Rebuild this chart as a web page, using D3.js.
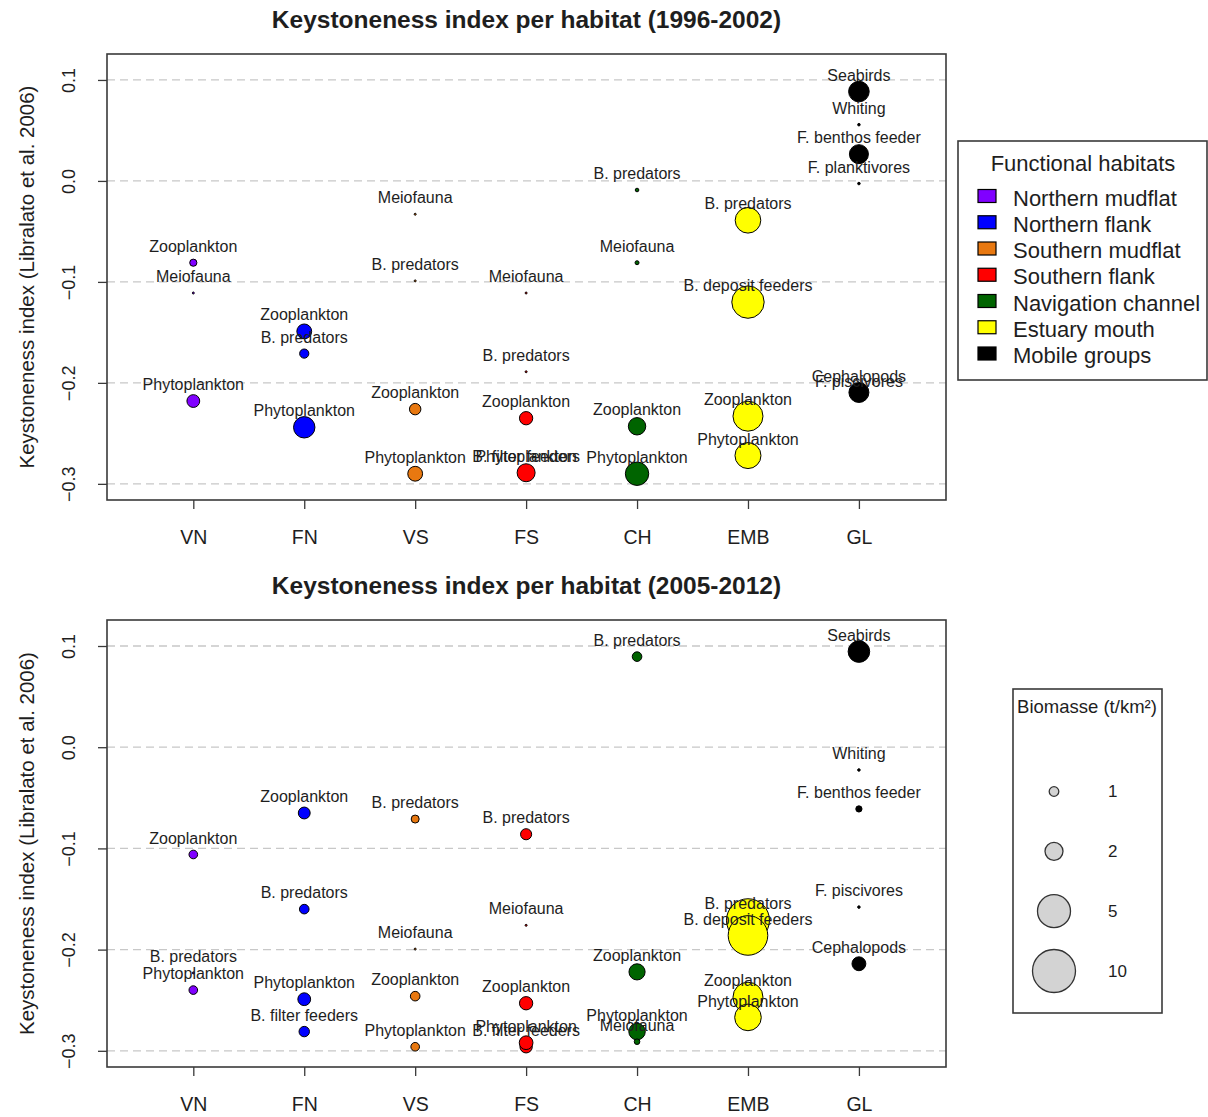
<!DOCTYPE html>
<html>
<head>
<meta charset="utf-8">
<title>Keystoneness index per habitat</title>
<script src="https://cdn.jsdelivr.net/npm/d3@7"></script>
<style>
  html, body { margin: 0; padding: 0; background: #ffffff; }
  svg { display: block; font-family: "Liberation Sans", Arial, Helvetica, sans-serif; }
</style>
</head>
<body>
<svg id="chart" width="1208" height="1117"></svg>
<script>
// ---- Habitats (x categories) and legend entries ----
const habitatCodes  = ["VN", "FN", "VS", "FS", "CH", "EMB", "GL"];
const habitatNames  = ["Northern mudflat", "Northern flank", "Southern mudflat", "Southern flank",
                       "Navigation channel", "Estuary mouth", "Mobile groups"];
const habitatColors = ["#8000FF", "#0000FF", "#E87810", "#FF0000", "#006400", "#FFFF00", "#000000"];

const yTickValues = [-0.3, -0.2, -0.1, 0.0, 0.1];
const biomassKeys = [1, 2, 5, 10];

// ---- Period 1996-2002 ----
const p1Habitat = [
  "VN", "VN", "VN",
  "FN", "FN", "FN",
  "VS", "VS", "VS", "VS",
  "FS", "FS", "FS", "FS", "FS",
  "CH", "CH", "CH", "CH",
  "EMB", "EMB", "EMB", "EMB",
  "GL", "GL", "GL", "GL", "GL", "GL"
];
const p1Group = [
  "Zooplankton", "Meiofauna", "Phytoplankton",
  "Zooplankton", "B. predators", "Phytoplankton",
  "Meiofauna", "B. predators", "Zooplankton", "Phytoplankton",
  "Meiofauna", "B. predators", "Zooplankton", "B. filter feeders", "Phytoplankton",
  "B. predators", "Meiofauna", "Zooplankton", "Phytoplankton",
  "B. predators", "B. deposit feeders", "Zooplankton", "Phytoplankton",
  "Seabirds", "Whiting", "F. benthos feeder", "F. planktivores", "F. piscivores", "Cephalopods"
];
const p1Keystone = [
  -0.081, -0.111, -0.218,
  -0.149, -0.171, -0.244,
  -0.033, -0.099, -0.226, -0.290,
  -0.111, -0.189, -0.235, -0.289, -0.289,
  -0.009, -0.081, -0.243, -0.290,
  -0.039, -0.120, -0.233, -0.272,
  0.0885, 0.0557, 0.0265, -0.0026, -0.215, -0.2095
];
const p1Biomass = [
  0.70, 0.05, 1.38,
  1.62, 0.95, 2.68,
  0.05, 0.05, 1.22, 1.62,
  0.05, 0.05, 1.44, 0.05, 2.00,
  0.25, 0.30, 1.93, 3.08,
  3.52, 4.88, 4.40, 3.60,
  2.52, 0.12, 2.20, 0.12, 0.10, 2.40
];

// ---- Period 2005-2012 ----
const p2Habitat = [
  "VN", "VN", "VN",
  "FN", "FN", "FN", "FN",
  "VS", "VS", "VS", "VS",
  "FS", "FS", "FS", "FS", "FS",
  "CH", "CH", "CH", "CH",
  "EMB", "EMB", "EMB", "EMB",
  "GL", "GL", "GL", "GL", "GL"
];
const p2Group = [
  "Zooplankton", "B. predators", "Phytoplankton",
  "Zooplankton", "B. predators", "Phytoplankton", "B. filter feeders",
  "B. predators", "Meiofauna", "Zooplankton", "Phytoplankton",
  "B. predators", "Meiofauna", "Zooplankton", "B. filter feeders", "Phytoplankton",
  "B. predators", "Zooplankton", "Phytoplankton", "Meiofauna",
  "B. predators", "B. deposit feeders", "Zooplankton", "Phytoplankton",
  "Seabirds", "Whiting", "F. benthos feeder", "F. piscivores", "Cephalopods"
];
const p2Keystone = [
  -0.106, -0.223, -0.240,
  -0.065, -0.160, -0.249, -0.281,
  -0.071, -0.1995, -0.246, -0.296,
  -0.086, -0.176, -0.253, -0.296, -0.292,
  0.0895, -0.222, -0.281, -0.291,
  -0.171, -0.186, -0.247, -0.267,
  0.0945, -0.0225, -0.061, -0.158, -0.214
];
const p2Biomass = [
  0.88, 0.05, 0.88,
  1.27, 1.00, 1.38, 1.10,
  0.80, 0.05, 1.00, 0.88,
  1.18, 0.05, 1.44, 1.33, 1.49,
  1.00, 1.78, 1.82, 0.50,
  10.0, 8.30, 4.40, 3.72,
  2.72, 0.12, 0.58, 0.12, 1.51
];

// ---- Drawing ----
const svg = d3.select("#chart");
const textColor = "#1e1e1e";

const colorOf = d3.scaleOrdinal().domain(habitatCodes).range(habitatColors);
const rScale = d3.scaleLinear().domain([0, 1, 2, 5, 10]).range([0.8, 4.8, 9, 16.5, 21.5]);

const plotLeft = 107, plotRight = 946;

function drawPanel(cfg) {
  const { top, bottom, title, habitat, group, keystone, biomass } = cfg;

  const x = d3.scaleLinear().domain([0.222, 7.785]).range([plotLeft, plotRight]);
  const y = d3.scaleLinear().domain([-0.316, 0.1257]).range([bottom, top]);
  const xPos = code => x(habitatCodes.indexOf(code) + 1);

  const g = svg.append("g");

  // Title
  g.append("text")
    .attr("x", (plotLeft + plotRight) / 2)
    .attr("y", top - 35)
    .attr("dy", "0.35em")
    .attr("text-anchor", "middle")
    .attr("font-size", 24.5)
    .attr("font-weight", "bold")
    .attr("fill", textColor)
    .text(title);

  // Dashed reference lines
  g.append("g").selectAll("line")
    .data(yTickValues)
    .join("line")
    .attr("x1", plotLeft).attr("x2", plotRight)
    .attr("y1", d => y(d)).attr("y2", d => y(d))
    .attr("stroke", "#c8c8c8")
    .attr("stroke-width", 1.3)
    .attr("stroke-dasharray", "8,5");

  // Y axis
  const yAxis = g.append("g")
    .attr("transform", `translate(${plotLeft},0)`)
    .call(d3.axisLeft(y).tickValues(yTickValues).tickSize(9).tickFormat(d3.format(".1f")));
  yAxis.select(".domain").remove();
  yAxis.selectAll(".tick line").attr("stroke", "#3a3a3a").attr("stroke-width", 1.3);
  yAxis.selectAll(".tick text")
    .attr("x", null).attr("dy", null)
    .attr("transform", "translate(-38,0) rotate(-90)")
    .attr("dy", "0.35em")
    .attr("text-anchor", "middle")
    .attr("font-size", 18)
    .attr("font-family", "Liberation Sans, Arial, sans-serif")
    .attr("fill", textColor);

  // Y axis title
  g.append("text")
    .attr("transform", `translate(26.5,${(top + bottom) / 2}) rotate(-90)`)
    .attr("dy", "0.35em")
    .attr("text-anchor", "middle")
    .attr("font-size", 20.5)
    .attr("fill", textColor)
    .text("Keystoneness index (Libralato et al. 2006)");

  // X axis
  const xAxis = g.append("g")
    .attr("transform", `translate(0,${bottom})`)
    .call(d3.axisBottom(x).tickValues(d3.range(1, habitatCodes.length + 1))
      .tickSize(9).tickFormat(i => habitatCodes[i - 1]));
  xAxis.select(".domain").remove();
  xAxis.selectAll(".tick line").attr("stroke", "#3a3a3a").attr("stroke-width", 1.3);
  xAxis.selectAll(".tick text")
    .attr("y", 37)
    .attr("dy", "0.35em")
    .attr("font-size", 19.5)
    .attr("font-family", "Liberation Sans, Arial, sans-serif")
    .attr("fill", textColor);

  // Frame
  g.append("rect")
    .attr("x", plotLeft).attr("y", top)
    .attr("width", plotRight - plotLeft).attr("height", bottom - top)
    .attr("fill", "none")
    .attr("stroke", "#3a3a3a")
    .attr("stroke-width", 1.6);

  const idx = d3.range(group.length);

  // Bubbles
  g.append("g").selectAll("circle")
    .data(idx)
    .join("circle")
    .attr("cx", i => xPos(habitat[i]))
    .attr("cy", i => y(keystone[i]))
    .attr("r", i => rScale(biomass[i]))
    .attr("fill", i => colorOf(habitat[i]))
    .attr("stroke", "#000")
    .attr("stroke-width", 1);

  // Group labels above each bubble
  g.append("g").selectAll("text")
    .data(idx)
    .join("text")
    .attr("x", i => xPos(habitat[i]))
    .attr("y", i => y(keystone[i]) - 16.5)
    .attr("dy", "0.35em")
    .attr("text-anchor", "middle")
    .attr("font-size", 16)
    .attr("fill", textColor)
    .text(i => group[i]);
}

drawPanel({ top: 54, bottom: 500, title: "Keystoneness index per habitat (1996-2002)",
            habitat: p1Habitat, group: p1Group, keystone: p1Keystone, biomass: p1Biomass });
drawPanel({ top: 620, bottom: 1067, title: "Keystoneness index per habitat (2005-2012)",
            habitat: p2Habitat, group: p2Group, keystone: p2Keystone, biomass: p2Biomass });

// ---- Legend: functional habitats ----
const leg1 = svg.append("g");
leg1.append("rect")
  .attr("x", 958).attr("y", 141).attr("width", 249).attr("height", 239)
  .attr("fill", "#fff").attr("stroke", "#3a3a3a").attr("stroke-width", 1.6);
leg1.append("text")
  .attr("x", 1083).attr("y", 163).attr("dy", "0.35em")
  .attr("text-anchor", "middle").attr("font-size", 22).attr("fill", textColor)
  .text("Functional habitats");
const rowY = d3.scaleLinear().domain([0, 6]).range([198, 355.5]);
const rows = leg1.selectAll("g.row").data(d3.range(habitatNames.length)).join("g").attr("class", "row");
rows.append("rect")
  .attr("x", 978).attr("y", i => rowY(i) - 8.5)
  .attr("width", 18).attr("height", 13)
  .attr("fill", i => habitatColors[i])
  .attr("stroke", "#000").attr("stroke-width", 1.2);
rows.append("text")
  .attr("x", 1013).attr("y", i => rowY(i)).attr("dy", "0.35em")
  .attr("font-size", 22).attr("fill", textColor)
  .text(i => habitatNames[i]);

// ---- Legend: biomass ----
const leg2 = svg.append("g");
leg2.append("rect")
  .attr("x", 1013).attr("y", 689).attr("width", 149).attr("height", 324)
  .attr("fill", "#fff").attr("stroke", "#3a3a3a").attr("stroke-width", 1.6);
leg2.append("text")
  .attr("x", 1087).attr("y", 707).attr("dy", "0.35em")
  .attr("text-anchor", "middle").attr("font-size", 18.5).attr("fill", textColor)
  .text("Biomasse (t/km²)");
const keyY = d3.scaleLinear().domain([0, 3]).range([791.5, 971]);
const keys = leg2.selectAll("g.key").data(biomassKeys).join("g").attr("class", "key");
keys.append("circle")
  .attr("cx", 1054).attr("cy", (d, i) => keyY(i))
  .attr("r", d => rScale(d))
  .attr("fill", "#d3d3d3").attr("stroke", "#333").attr("stroke-width", 1.3);
keys.append("text")
  .attr("x", 1108).attr("y", (d, i) => keyY(i)).attr("dy", "0.35em")
  .attr("font-size", 17).attr("fill", textColor)
  .text(d => d);
</script>
</body>
</html>
